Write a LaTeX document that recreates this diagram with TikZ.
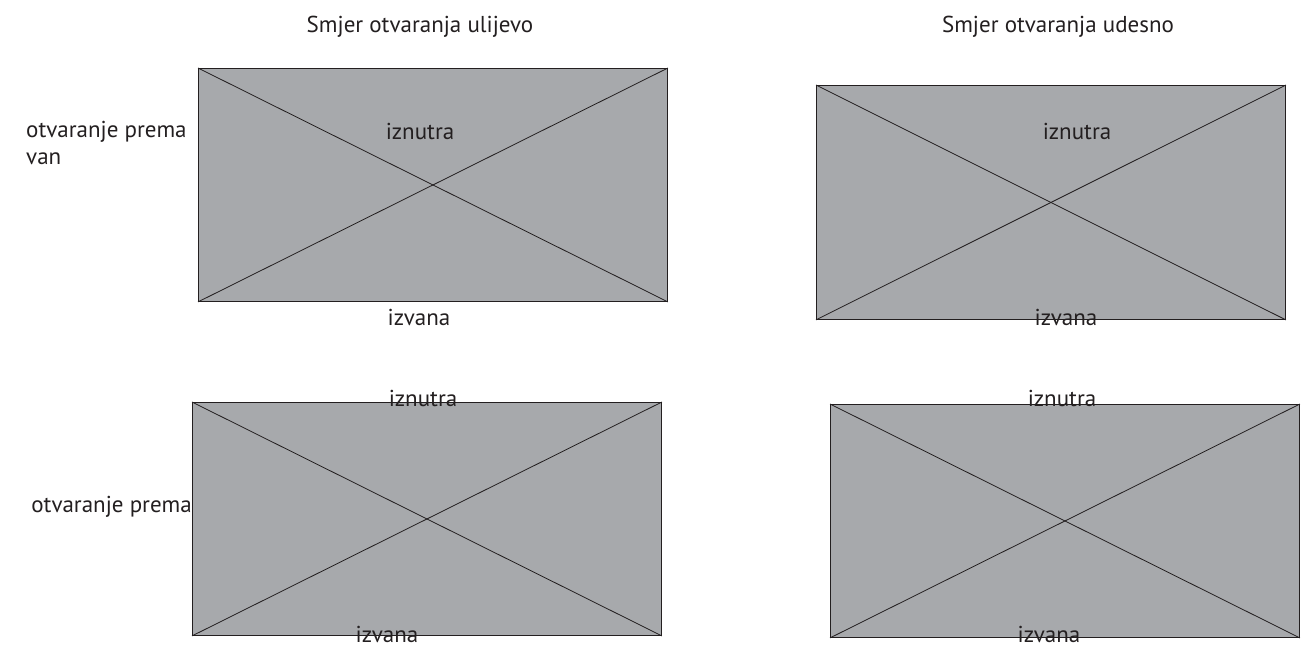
\documentclass[tikz,border=0pt]{standalone}
\usepackage{fontspec}
\setmainfont{PT Sans}
\definecolor{panel}{HTML}{A7A9AC}
\definecolor{ink}{HTML}{231F20}
\begin{document}
\begin{tikzpicture}[x=1pt,y=-1pt,
  panelbox/.style={draw=ink,fill=panel,line width=0.9pt,rectangle,inner sep=0pt,anchor=north west},
  diag/.style={draw=ink,line width=0.8pt},
  lbl/.style={font=\fontsize{23}{26.5}\selectfont,text=ink,inner sep=0pt,anchor=base}]
\useasboundingbox (0,0) rectangle (1313,648);
\node[panelbox,minimum width=469pt,minimum height=233pt] (r1) at (198,68) {};
\node[panelbox,minimum width=469pt,minimum height=234pt] (r2) at (816,85) {};
\node[panelbox,minimum width=469pt,minimum height=233pt] (r3) at (192,402) {};
\node[panelbox,minimum width=469pt,minimum height=233pt] (r4) at (830,404) {};
\foreach \r in {r1,r2,r3,r4}{
  \draw[diag] (\r.north west) -- (\r.south east);
  \draw[diag] (\r.south west) -- (\r.north east);
}
\node[lbl] (t1) at (420,32) {Smjer otvaranja ulijevo};
\node[lbl] (t2) at (1058,32) {Smjer otvaranja udesno};
\node[lbl,anchor=base west,align=left] (s1) at (26,164) {otvaranje prema\\van};
\node[lbl,anchor=base east] (s2) at (192,512) {otvaranje prema};
\node[lbl] (i1) at (420,139) {iznutra};
\node[lbl] (o1) at (419,325) {izvana};
\node[lbl] (i2) at (1077,139) {iznutra};
\node[lbl] (o2) at (1066,325) {izvana};
\node[lbl] (i3) at (423,406) {iznutra};
\node[lbl] (o3) at (387,642) {izvana};
\node[lbl] (i4) at (1062,406) {iznutra};
\node[lbl] (o4) at (1049,642) {izvana};
\end{tikzpicture}
\end{document}
